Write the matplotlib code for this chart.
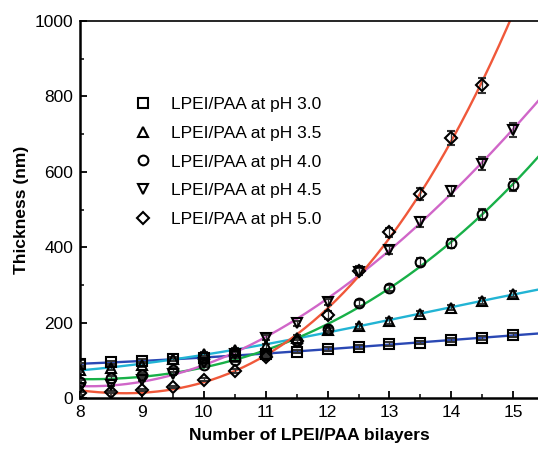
import numpy as np
import matplotlib.pyplot as plt

plt.rcParams['font.family'] = ['Liberation Sans', 'DejaVu Sans']

bilayers = [8, 8.5, 9, 9.5, 10, 10.5, 11, 11.5, 12, 12.5, 13, 13.5, 14, 14.5, 15]

ph30 = [90, 95, 99, 103, 107, 111, 118, 123, 131, 135, 143, 147, 154, 159, 167]
ph35 = [75, 80, 88, 104, 117, 127, 137, 160, 180, 190, 204, 224, 240, 257, 276]
ph40 = [43, 53, 61, 74, 88, 100, 114, 152, 184, 252, 293, 361, 411, 487, 565]
ph45 = [26, 35, 48, 65, 93, 118, 160, 198, 255, 335, 393, 467, 549, 622, 711]
ph50 = [12, 16, 21, 29, 48, 72, 108, 150, 220, 338, 440, 542, 690, 830]

err30 = [4, 4, 4, 4, 4, 4, 4, 4, 5, 5, 5, 5, 5, 5, 6]
err35 = [6, 6, 6, 6, 6, 6, 6, 6, 6, 6, 7, 7, 7, 7, 8]
err40 = [5, 5, 5, 5, 5, 5, 5, 6, 6, 8, 8, 10, 12, 14, 16]
err45 = [4, 4, 4, 4, 5, 5, 6, 6, 8, 10, 10, 14, 14, 16, 18]
err50 = [3, 3, 3, 3, 4, 5, 6, 8, 10, 12, 12, 16, 18, 20]

labels = ['LPEI/PAA at pH 3.0', 'LPEI/PAA at pH 3.5', 'LPEI/PAA at pH 4.0',
          'LPEI/PAA at pH 4.5', 'LPEI/PAA at pH 5.0']
markers = ['s', '^', 'o', 'v', 'D']
line_colors = ['#2a48b4', '#22b4d4', '#18b048', '#d066c8', '#f0583a']

series = [ph30, ph35, ph40, ph45, ph50]
errors = [err30, err35, err40, err45, err50]

fig = plt.figure(figsize=(5.38, 4.51), dpi=100)
ax = fig.add_axes([0.1487, 0.1175, 0.8513, 0.8359])

# smooth fitted curves (cubic)
xfit = np.linspace(8, 15.5, 300)
for y, e, m, c, lab in zip(series, errors, markers, line_colors, labels):
    x = bilayers[:len(y)]
    coef = np.polyfit(x, y, 3)
    ax.plot(xfit, np.polyval(coef, xfit), color=c, lw=1.7, zorder=2)
    ms = 6 if m == 'D' else 7
    ax.errorbar(x, y, yerr=e, fmt=m, ms=ms, mfc='none', mec='black', mew=1.5,
                ecolor='#333333', elinewidth=0.9, capsize=3, capthick=0.9,
                label=lab, zorder=3)

ax.set_xlim(8, 15.4)
ax.set_ylim(0, 1000)
ax.set_xticks([8, 9, 10, 11, 12, 13, 14, 15])
ax.set_xticks(np.arange(8.5, 15.4, 1), minor=True)
ax.set_yticks([0, 200, 400, 600, 800, 1000])
ax.set_yticks([100, 300, 500, 700, 900], minor=True)
ax.tick_params(which='major', direction='in', length=5, width=1.3, labelsize=12.5, pad=5)
ax.tick_params(which='minor', direction='in', length=3, width=1.1)
ax.spines['right'].set_visible(False)
for s in ['left', 'bottom']:
    ax.spines[s].set_linewidth(1.8)
ax.spines['top'].set_linewidth(1.2)

ax.set_xlabel('Number of LPEI/PAA bilayers', fontsize=12.5, fontweight='bold', labelpad=6)
ax.set_ylabel('Thickness (nm)', fontsize=12.5, fontweight='bold', labelpad=4)

handles, labs = ax.get_legend_handles_labels()
handles = [h[0] for h in handles]
ax.legend(handles, labs, loc='upper left', bbox_to_anchor=(0.085, 0.84), frameon=False,
          fontsize=12.5, handlelength=1.0, handletextpad=1.1, labelspacing=0.78)

plt.savefig('out.png', dpi=100)
